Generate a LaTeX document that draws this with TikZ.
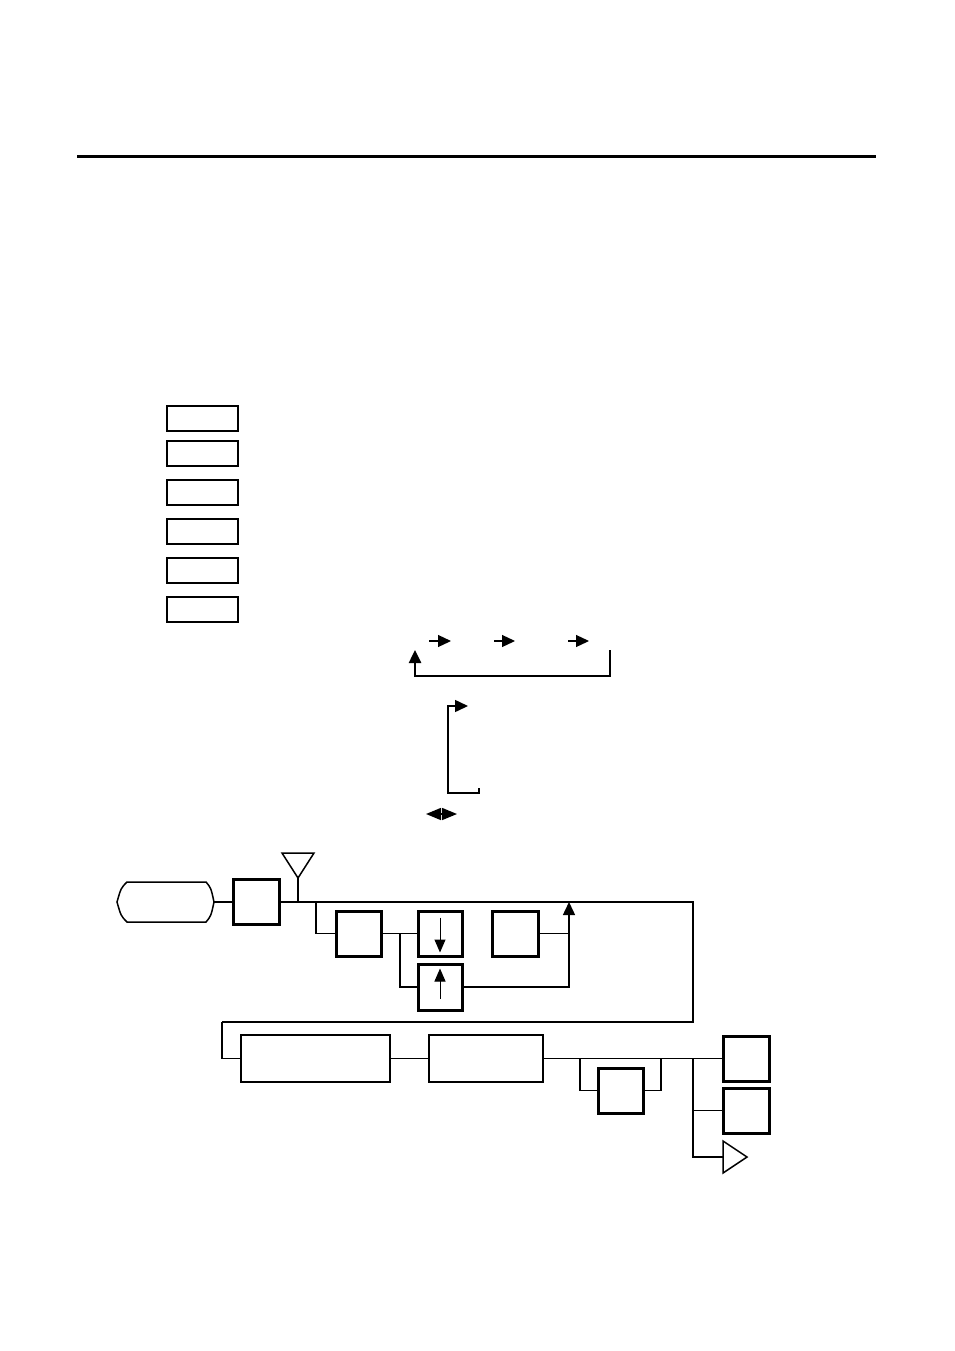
\documentclass[tikz,border=0pt]{standalone}
\usetikzlibrary{arrows.meta}
\usetikzlibrary{calc}

\begin{document}
\begin{tikzpicture}[x=1pt,y=-1pt,>={Triangle[length=13pt,width=12pt]},
wire/.style={line width=1.5pt},
key box/.style={draw,line width=2pt,minimum width=71pt,minimum height=25pt,inner sep=0pt},
heavy box/.style={draw,line width=3pt,minimum width=45pt,minimum height=45pt,inner sep=0pt},
light box/.style={draw,line width=2pt,minimum height=47pt,inner sep=0pt},
mark arrow/.style={->,line width=1.2pt}]

\useasboundingbox (0,0) rectangle (954,1351);

\draw[line width=3pt] (77,157) -- (876,157);

\foreach \y/\n in {418.5/1,453.5/2,492.5/3,531.5/4,570.5/5,609/6}
  \node[key box] (key\n) at (202.5,\y) {};

\coordinate (r1) at (429,641);
\coordinate (r2) at (494,641);
\coordinate (r3) at (568,641);
\draw[mark arrow] (r1) -- ++(22,0);
\draw[mark arrow] (r2) -- ++(21,0);
\draw[mark arrow] (r3) -- ++(21,0);

\coordinate (loopR) at (610,650);
\coordinate (loopL) at (415,650);
\draw[->,line width=2.5pt] (loopR) -- (610,676) -| (loopL);

\coordinate (brTop) at (468,706);
\coordinate (brBot) at (479,788);
\draw[->,line width=1.5pt] (brBot) -- (479,793) -| (448,706) -- (brTop);

\coordinate (swL) at (426,814);
\coordinate (swR) at (457,814);
\draw[<->,line width=1.5pt,>={Triangle[length=15pt,width=12pt]}] (swL) -- (swR);

\node[inner sep=0pt,minimum width=97pt,minimum height=40pt] (start) at (165.5,902) {};
\draw[line width=1.5pt] (127,882) -- (206,882) .. controls (211,888) .. (214,902)
  .. controls (211,916) .. (206,922) -- (127,922) .. controls (121,916) .. (117,902)
  .. controls (121,888) .. (127,882) -- cycle;

\node[heavy box,minimum width=46pt] (entry) at (256.5,902) {};
\coordinate (tip) at (298,878);
\draw[line width=1.5pt] (282,853) -- (314,853) -- (tip) -- cycle;

\node[heavy box] (setB) at (358.5,933.5) {};
\node[heavy box,minimum width=44pt] (down) at (440,933.5) {};
\node[heavy box,minimum width=44pt,minimum height=46pt] (up) at (440,987) {};
\node[heavy box,minimum width=46pt] (setC) at (515,933.5) {};

\draw[->,line width=1pt,>={Triangle[length=13pt,width=11pt]}] ([yshift=-8pt]down.north) -- ([yshift=5pt]down.south);
\draw[->,line width=1pt,>={Triangle[length=13pt,width=11pt]}] ([yshift=13pt]up.south) -- ([yshift=-6pt]up.north);

\coordinate (fork1) at (316,902);
\coordinate (fork2) at (400,933.5);
\coordinate (back) at (569,902);
\coordinate (edgeR) at (693,902);
\coordinate (edgeL) at (222,1022);

\draw[wire] (start.east) -- (entry.west);
\draw[wire] (tip) -- (tip |- entry.east);
\draw[wire] (entry.east) -- (edgeR) -- (693,1022) -- (edgeL);
\draw[wire] (fork1) |- (setB.west);
\draw[wire] (setB.east) -- (down.west);
\draw[wire] (fork2) |- (up.west);
\draw[wire,->] (up.east) -| (back);
\draw[wire] (setC.east) -- (setC.east -| back);

\node[light box,minimum width=149pt] (rowD) at (315.5,1058.5) {};
\node[light box,minimum width=114pt] (rowE) at (485.5,1058.5) {};
\node[heavy box] (opt) at (620.5,1090.5) {};
\node[heavy box,minimum width=46pt] (outA) at (746,1059) {};
\node[heavy box,minimum width=46pt] (outB) at (746,1110.5) {};
\coordinate (pt) at (747,1157);
\draw[line width=1.5pt] (723,1141) -- (pt) -- (723,1173) -- cycle;

\coordinate (fork3) at (580,1058.5);
\coordinate (join3) at (661,1058.5);
\coordinate (fork4) at (693,1058.5);

\draw[wire] (edgeL) |- (rowD.west);
\draw[wire] (rowD.east) -- (rowE.west);
\draw[wire] (rowE.east) -- (rowE.east -| outA.west);
\draw[wire] (fork3) |- (opt.west);
\draw[wire] (opt.east) -| (join3);
\draw[wire] (fork4) |- (outB.west);
\draw[wire] (fork4) |- (723,1157);
\end{tikzpicture}
\end{document}
